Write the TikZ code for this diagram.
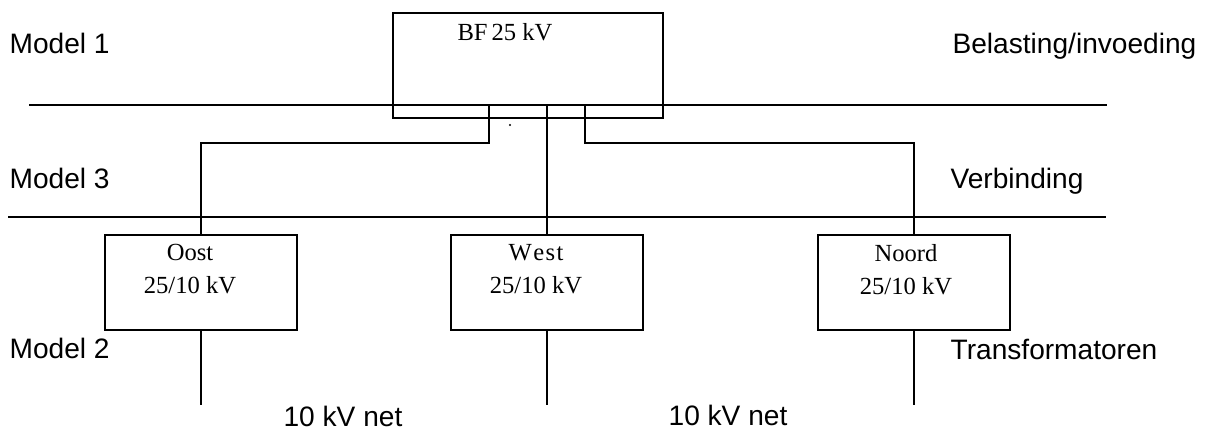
\documentclass[tikz,border=0pt]{standalone}
\usepackage{fontspec}
\setmainfont{Liberation Serif}
\setsansfont{Liberation Sans}
\usetikzlibrary{positioning}

\begin{document}
\begin{tikzpicture}[x=0.02cm,y=-0.02cm,line width=0.7pt,
    trafo/.style={draw,minimum width=3.84cm,minimum height=1.9cm,inner sep=0pt},
    boxtext/.style={inner sep=0pt,align=center,font=\fontsize{14}{18.8}\selectfont},
    layer/.style={inner sep=0pt,font=\sffamily\fontsize{16}{19}\selectfont}]
    \useasboundingbox (0,0) rectangle (1207,430);

    % busbars
    \draw (29,105) -- (1107,105);
    \draw (8,217) -- (1106,217);

    \node[draw,minimum width=5.4cm,minimum height=2.1cm,inner sep=0pt] (bf) at (528,65.5) {};
    \node[boxtext,below=0.2cm of bf.north,xshift=-0.46cm] (bftext) {BF\,25 kV};
    \fill (510,125) circle (1.2);

    \node[trafo] (oost) at (201,282.5) {};
    \node[trafo] (west) at (547,282.5) {};
    \node[trafo] (noord) at (914,282.5) {};
    \node[boxtext,below=0.18cm of oost.north,xshift=-0.22cm] (oosttext) {Oost\\25/10 kV};
    \node[boxtext,below=0.18cm of west.north,xshift=-0.22cm] (westtext) {W\kern0.8pt e\kern0.8pt s\kern0.8pt t\\25/10 kV};
    \node[boxtext,below=0.18cm of noord.north,xshift=-0.16cm] (noordtext) {Noord\\25/10 kV};

    \coordinate (t1) at (489,105);
    \coordinate (t2) at (547,105);
    \coordinate (t3) at (585,105);
    \draw (t1) -- (489,143) -| (oost.north);
    \draw (t2) -- (west.north);
    \draw (t3) -- (585,143) -| (noord.north);

    \coordinate (e1) at (201,405);
    \coordinate (e2) at (547,405);
    \coordinate (e3) at (914,405);
    \draw (oost.south) -- (e1);
    \draw (west.south) -- (e2);
    \draw (noord.south) -- (e3);

    % layer labels
    \node[layer,anchor=base west] (m1) at (9,53) {Model 1};
    \node[layer,anchor=base west] (m3) at (9,188) {Model 3};
    \node[layer,anchor=base west] (m2) at (9,358) {Model 2};
    \node[layer,anchor=base east] (l1) at (1197,53) {Belasting/invoeding};
    \node[layer,anchor=base west] (l3) at (950,188) {Verbinding};
    \node[layer,anchor=base west] (l2) at (950,359) {Transformatoren};
    \node[layer,anchor=base west] (net1) at (283,426) {10 kV net};
    \node[layer,anchor=base west] (net2) at (668,425) {10 kV net};
\end{tikzpicture}
\end{document}
